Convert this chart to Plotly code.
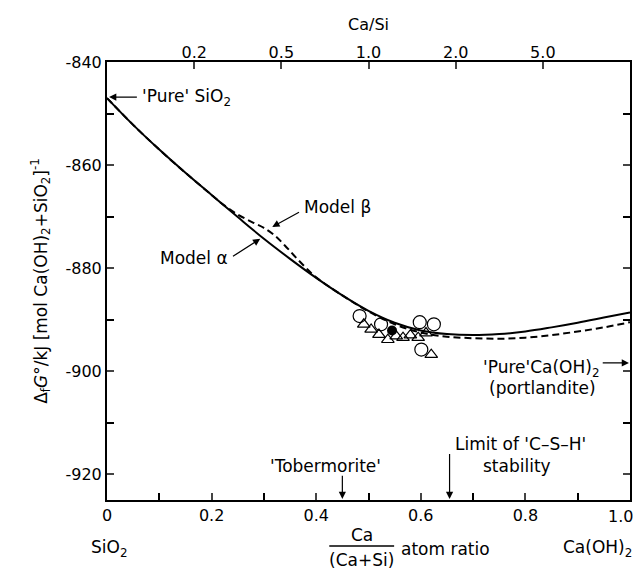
import plotly.graph_objects as go

# ---- data ----
alpha_x = [0.0, 0.05, 0.1, 0.15, 0.2, 0.25, 0.3, 0.35, 0.4, 0.45, 0.5, 0.55, 0.6, 0.65, 0.7, 0.75, 0.8, 0.85, 0.9, 0.95, 1.0]
alpha_y = [-847.0, -852.2, -857.0, -861.5, -865.8, -870.1, -874.3, -878.2, -881.9, -885.3, -888.3, -890.6, -892.1, -892.8, -893.0, -892.8, -892.3, -891.5, -890.6, -889.6, -888.6]

beta_x = [0.0, 0.05, 0.1, 0.15, 0.2, 0.22, 0.25, 0.28, 0.3, 0.32, 0.34, 0.36, 0.38, 0.4, 0.45, 0.5, 0.55, 0.6, 0.65, 0.7, 0.75, 0.8, 0.85, 0.9, 0.95, 1.0]
beta_y = [-847.0, -852.2, -857.0, -861.5, -865.8, -867.5, -869.6, -871.2, -872.2, -873.6, -875.6, -877.8, -879.9, -881.8, -885.3, -888.4, -890.9, -892.5, -893.3, -893.6, -893.7, -893.5, -893.0, -892.3, -891.5, -890.5]

circ_x = [0.483, 0.524, 0.598, 0.625, 0.601]
circ_y = [-889.3, -890.9, -890.5, -890.9, -895.8]

tri_x = [0.491, 0.505, 0.52, 0.537, 0.553, 0.566, 0.58, 0.595, 0.61, 0.62]
tri_y = [-890.9, -891.9, -892.9, -893.9, -893.2, -893.5, -893.0, -893.5, -892.6, -896.8]

filled_x = [0.545]
filled_y = [-892.1]

x_ticks = [0, 0.2, 0.4, 0.6, 0.8, 1.0]
x_ticktext = ["0", "0.2", "0.4", "0.6", "0.8", ""]
x_last_label = "1.0"
y_ticks = [-840, -860, -880, -900, -920]
y_ticktext = ["-840", "-860", "-880", "-900", "-920"]
casi_ticks = [0.2, 0.5, 1.0, 2.0, 5.0]
casi_ticktext = ["0.2", "0.5", "1.0", "2.0", "5.0"]

FONT = "DejaVu Sans"

fig = go.Figure()
fig.add_trace(go.Scatter(x=alpha_x, y=alpha_y, mode="lines", line=dict(color="black", width=2),
                         line_shape="spline", showlegend=False, hoverinfo="skip"))
fig.add_trace(go.Scatter(x=beta_x, y=beta_y, mode="lines", line=dict(color="black", width=2, dash="7px,4px"),
                         line_shape="spline", showlegend=False, hoverinfo="skip"))
fig.add_trace(go.Scatter(x=tri_x, y=tri_y, mode="markers",
                         marker=dict(symbol="triangle-up-open", size=11, color="black", line=dict(width=1.2)),
                         showlegend=False))
fig.add_trace(go.Scatter(x=circ_x, y=circ_y, mode="markers",
                         marker=dict(symbol="circle-open", size=13, color="black", line=dict(width=1.2)),
                         showlegend=False))
fig.add_trace(go.Scatter(x=filled_x, y=filled_y, mode="markers",
                         marker=dict(symbol="circle", size=10, color="black"), showlegend=False))
# dummy trace for the top axis
fig.add_trace(go.Scatter(x=[0, 1], y=[-840, -840], xaxis="x2", mode="lines",
                         line=dict(width=0), opacity=0, showlegend=False, hoverinfo="skip"))

casi_pos = [r / (1 + r) for r in casi_ticks]

fig.update_layout(
    width=637, height=577,
    margin=dict(l=107, r=5, t=62, b=77),
    paper_bgcolor="white", plot_bgcolor="white",
    font=dict(family=FONT, size=16, color="black"),
    xaxis=dict(range=[0, 1], tickvals=x_ticks, ticktext=x_ticktext, ticks="inside", ticklen=7,
               tickwidth=1.5, showline=True, linecolor="black", linewidth=2, mirror=True,
               showgrid=False, zeroline=False,
               minor=dict(dtick=0.1, ticks="inside", ticklen=7, tickwidth=1.5, tickcolor="black", showgrid=False),
               tickfont=dict(size=16)),
    xaxis2=dict(range=[0, 1], overlaying="x", side="top", tickvals=casi_pos, ticktext=casi_ticktext,
                ticks="inside", ticklen=7, tickwidth=1.5, showline=False, showgrid=False, zeroline=False,
                title=dict(text="Ca/Si", font=dict(size=16), standoff=8), tickfont=dict(size=16)),
    yaxis=dict(range=[-925, -840], tickvals=y_ticks, ticktext=y_ticktext, ticks="inside", ticklen=7,
               tickwidth=1.5, showline=True, linecolor="black", linewidth=2, mirror="ticks",
               showgrid=False, zeroline=False,
               minor=dict(dtick=10, ticks="inside", ticklen=7, tickwidth=1.5, tickcolor="black", showgrid=False),
               tickfont=dict(size=16),
               title=dict(text="Δ<sub>f</sub><i>G</i>°/kJ [mol Ca(OH)<sub>2</sub>+SiO<sub>2</sub>]<sup>-1</sup>",
                          font=dict(size=17), standoff=14)),
)

ann = []
def text(x, y, s, xanchor="center", size=17, yanchor="middle"):
    ann.append(dict(x=x, y=y, xref="x", yref="y", text=s, showarrow=False, xanchor=xanchor,
                    yanchor=yanchor, font=dict(size=size, family=FONT)))

def ptext(x, y, s, xanchor="center", size=17):
    ann.append(dict(x=x, y=y, xref="paper", yref="paper", text=s, showarrow=False, xanchor=xanchor,
                    yanchor="middle", font=dict(size=size, family=FONT)))

def arrow(x0, y0, x1, y1):
    ann.append(dict(x=x1, y=y1, ax=x0, ay=y0, xref="x", yref="y", axref="x", ayref="y", text="",
                    showarrow=True, arrowhead=2, arrowsize=1.2, arrowwidth=1.2, arrowcolor="black"))

text(0.063, -846.8, "'Pure' SiO<sub>2</sub>", xanchor="left")
arrow(0.06, -846.8, 0.004, -846.8)

text(0.373, -868.2, "Model β", xanchor="left")
arrow(0.37, -869.0, 0.316, -872.0)

text(0.236, -878.0, "Model α", xanchor="right")
arrow(0.238, -877.9, 0.293, -874.3)

text(0.83, -899.4, "'Pure'Ca(OH)<sub>2</sub>")
text(0.832, -903.2, "(portlandite)")
arrow(0.945, -898.4, 0.998, -898.4)

text(0.418, -918.4, "'Tobermorite'")
arrow(0.45, -920.0, 0.45, -924.8)

text(0.79, -914.2, "Limit of 'C–S–H'")
text(0.783, -918.4, "stability")
arrow(0.655, -915.8, 0.655, -924.8)

# texts below the plot (paper coordinates)
ptext(1.0095, -0.0388, x_last_label, xanchor="right", size=16)
ptext(0.003, -0.1096, "SiO<sub>2</sub>")
ptext(1.008, -0.1096, "Ca(OH)<sub>2</sub>", xanchor="right")
ptext(0.487, -0.080, "Ca")
ptext(0.487, -0.137, "(Ca+Si)")
ptext(0.558, -0.112, "atom ratio", xanchor="left")

fig.update_layout(annotations=ann)
fig.add_shape(type="line", xref="paper", yref="paper", x0=0.425, x1=0.549,
              y0=(500 - 546) / 438, y1=(500 - 546) / 438, line=dict(color="black", width=1.5))

fig.write_html("out.html")
